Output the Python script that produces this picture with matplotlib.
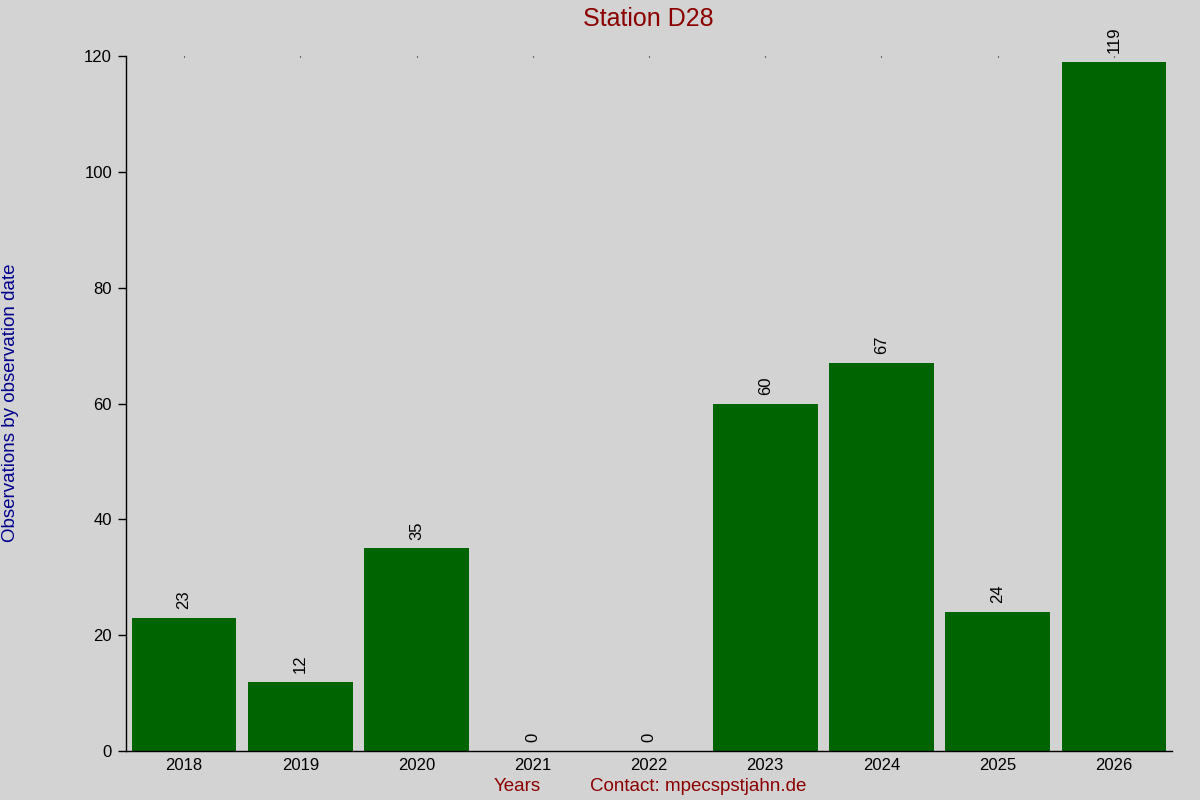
import matplotlib.pyplot as plt
import numpy as np

plt.rcParams['font.family'] = ['Liberation Sans', 'DejaVu Sans']

# observations per year
years = ['2018', '2019', '2020', '2021', '2022', '2023', '2024', '2025', '2026']
counts = [23, 12, 35, 0, 0, 60, 67, 24, 119]

bg = '#d3d3d3'
fig = plt.figure(figsize=(12, 8), dpi=100, facecolor=bg)
ax = fig.add_axes([0.105, 0.06125, 0.8717, 0.86875], facecolor=bg)

x = np.arange(len(years))
bars = ax.bar(x, counts, width=0.9, color='#006400')

for bar, v in zip(bars, counts):
    ax.text(bar.get_x() + bar.get_width() / 2, v + 1.5, str(v),
            rotation=90, ha='center', va='bottom', fontsize=12, clip_on=False)

ax.set_xlim(-0.5, len(years) - 0.5)
ax.set_ylim(0, 120)
ax.set_yticks(np.arange(0, 121, 20))
ax.set_xticks(x)
ax.set_xticklabels(years)
ax.tick_params(axis='x', bottom=False, top=True, direction='in', length=1, width=0.8,
               labelsize=12, pad=5)
ax.tick_params(axis='y', direction='out', length=6, width=1, labelsize=12, pad=4)

for s in ['top', 'right']:
    ax.spines[s].set_visible(False)
ax.spines['left'].set_linewidth(1)
ax.spines['bottom'].set_linewidth(1)

fig.text(0.54, 0.976, 'Station D28', ha='center', va='center', fontsize=18, color='#8b0000')
fig.text(0.009, 0.497, 'Observations by observation date', rotation=90,
         ha='center', va='center', fontsize=13.5, color='#00008b')
fig.text(0.431, 0.017, 'Years', ha='center', va='center', fontsize=13.5, color='#8b0000')
fig.text(0.582, 0.017, 'Contact: mpecspstjahn.de', ha='center', va='center', fontsize=13.5,
         color='#8b0000')

fig.savefig('out.png', dpi=100, facecolor=bg)
